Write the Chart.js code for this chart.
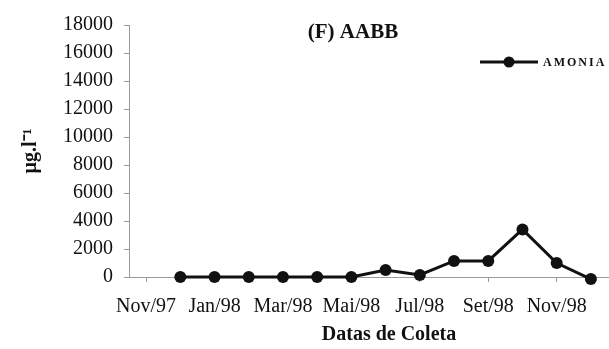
<!DOCTYPE html>
<html>
<head>
<meta charset="utf-8">
<script src="https://cdn.jsdelivr.net/npm/chart.js@4"></script>
<style>
  html, body { margin: 0; padding: 0; background: #fff; overflow: hidden; }
  #wrap { width: 614px; height: 349px; }
</style>
</head>
<body>
<div id="wrap"><canvas id="chart" width="614" height="349"></canvas></div>
<script>
const months = ["Nov/97", "Dez/97", "Jan/98", "Fev/98", "Mar/98", "Abr/98", "Mai/98",
  "Jun/98", "Jul/98", "Ago/98", "Set/98", "Out/98", "Nov/98", "Dez/98"];
// only every other month gets a label on the axis
const shownLabels = ["Nov/97", "Jan/98", "Mar/98", "Mai/98", "Jul/98", "Set/98", "Nov/98"];
const amonia = [null, 0, 0, 0, 0, 0, 0, 500, 150, 1150, 1150, 3400, 1000, -150];
const yTicks = [0, 2000, 4000, 6000, 8000, 10000, 12000, 14000, 16000, 18000];

const INK = "#111";
const AXIS_GRAY = "#9a9a9a";
const SERIF = "'Liberation Serif', 'Times New Roman', serif";

const overlayText = {
  id: "overlayText",
  afterDraw(chart) {
    const ctx = chart.ctx;
    ctx.save();
    ctx.fillStyle = INK;
    ctx.textBaseline = "middle";

    // chart title
    ctx.font = `bold 21px ${SERIF}`;
    ctx.textAlign = "center";
    ctx.fillText("(F) AABB", 353, 33);

    // x axis title
    ctx.font = `bold 20px ${SERIF}`;
    ctx.fillText("Datas de Coleta", 389, 335);

    // legend
    ctx.strokeStyle = INK;
    ctx.lineWidth = 3;
    ctx.beginPath();
    ctx.moveTo(480, 62);
    ctx.lineTo(538, 62);
    ctx.stroke();
    ctx.beginPath();
    ctx.arc(509, 62, 5.5, 0, Math.PI * 2);
    ctx.fill();
    ctx.font = `bold 12px ${SERIF}`;
    ctx.textAlign = "left";
    ctx.letterSpacing = "2px";
    ctx.fillText("AMONIA", 543, 63);
    ctx.restore();
  },
};

new Chart(document.getElementById("chart"), {
  type: "line",
  data: {
    labels: months,
    datasets: [
      {
        label: "AMONIA",
        data: amonia,
        borderColor: INK,
        backgroundColor: INK,
        borderWidth: 3,
        pointRadius: 6,
        pointBackgroundColor: INK,
        pointBorderWidth: 0,
        tension: 0,
        clip: false,
      },
    ],
  },
  options: {
    responsive: false,
    animation: false,
    layout: { padding: { top: 25, right: 0, bottom: 0, left: 0 } },
    plugins: { legend: { display: false }, tooltip: { enabled: false } },
    scales: {
      x: {
        offset: true,
        afterFit: (scale) => { scale.height = 72; },
        border: { color: AXIS_GRAY, width: 1 },
        grid: {
          drawOnChartArea: false,
          tickLength: 5,
          color: (c) => (c.index % 2 === 0 ? AXIS_GRAY : "rgba(0,0,0,0)"),
        },
        ticks: {
          autoSkip: false,
          maxRotation: 0,
          padding: 13,
          color: INK,
          font: { family: SERIF, size: 20 },
          callback: (val, i) => (shownLabels.includes(months[i]) ? months[i] : ""),
        },
      },
      y: {
        min: yTicks[0],
        max: yTicks[yTicks.length - 1],
        afterFit: (scale) => { scale.width = 129; },
        afterBuildTicks: (scale) => { scale.ticks = yTicks.map((v) => ({ value: v })); },
        border: { color: AXIS_GRAY, width: 1 },
        grid: { drawOnChartArea: false, tickLength: 5, color: AXIS_GRAY },
        ticks: {
          padding: 11,
          color: INK,
          font: { family: SERIF, size: 20 },
          callback: (val) => String(val),
        },
        title: {
          display: true,
          text: "µg.l⁻¹",
          color: INK,
          font: { family: SERIF, size: 20, weight: "bold" },
          padding: { top: 19, bottom: 0 },
        },
      },
    },
  },
  plugins: [overlayText],
});
</script>
</body>
</html>
